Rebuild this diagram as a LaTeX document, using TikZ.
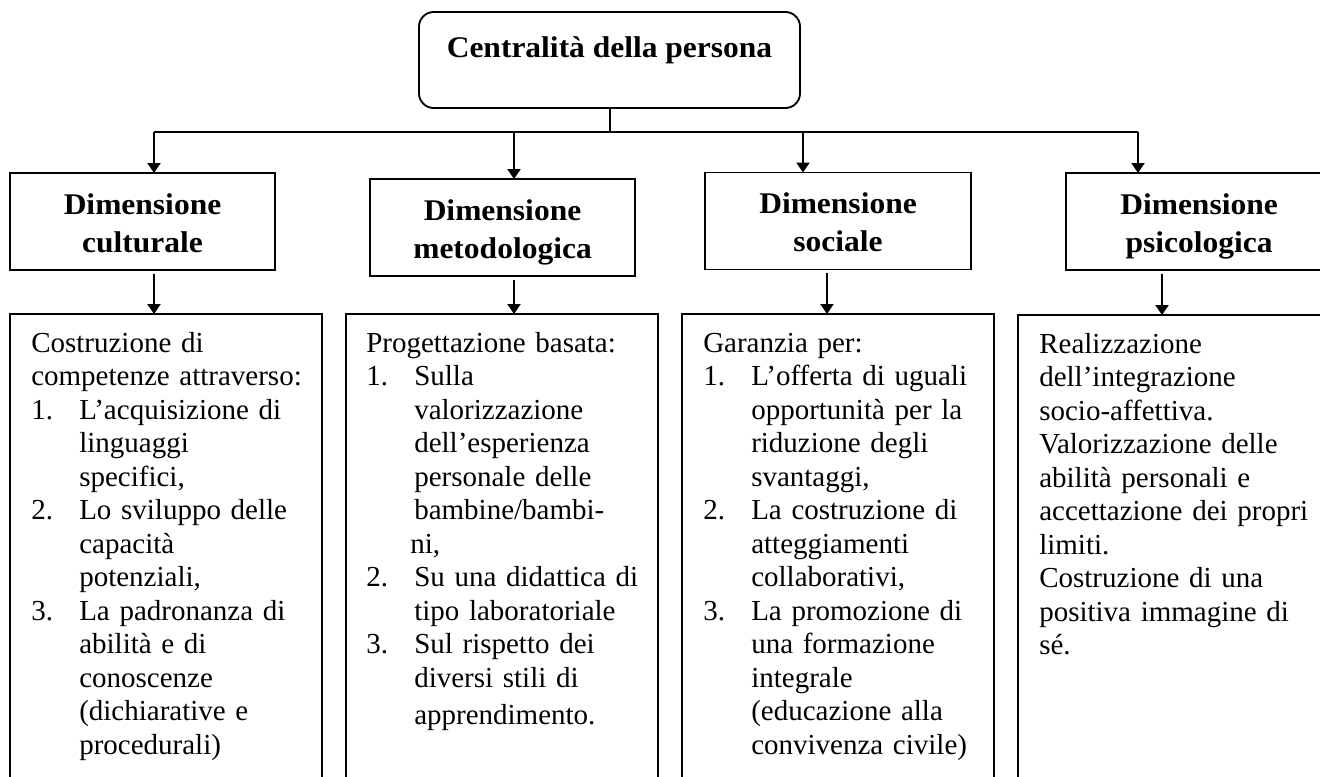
\documentclass[tikz,border=0pt]{standalone}
\usepackage{fontspec}
\setmainfont{Liberation Serif}
\newfontfamily\boldfam{Liberation Serif}[FakeStretch=1.05]
\usetikzlibrary{arrows.meta}
\newcommand\nbr[1]{\makebox[36pt][l]{#1}}
\newcommand\hin{\hspace*{36pt}}
\begin{document}
\begin{tikzpicture}[x=0.75pt,y=-0.75pt,
  line/.style={line width=1.5pt},
  arr/.style={line width=1.5pt,-{Triangle[length=7.5pt,width=9.75pt]}},
  box/.style={draw,line width=1.4pt,rectangle,inner sep=0pt,outer sep=0pt},
  midbox/.style={box,minimum width=199pt,minimum height=72.75pt},
  lowbox/.style={box,minimum width=234pt,minimum height=364.5pt,anchor=north},
  titletxt/.style={font=\boldfam\bfseries\fontsize{22.5pt}{28.5pt}\selectfont,inner sep=0pt,anchor=base},
  headtxt/.style={font=\boldfam\bfseries\fontsize{22.5pt}{28.5pt}\selectfont,align=center,inner sep=0pt,anchor=north},
  bodytxt/.style={font=\fontsize{21.75pt}{25.125pt}\selectfont,align=left,text width=225pt,inner sep=0pt,anchor=north west}]

\useasboundingbox (0,0) rectangle (1320,776);
\clip (0,0) rectangle (1320,776);

% top box
\node[box,rounded corners=11pt,minimum width=285.75pt,minimum height=72pt] (c) at (609.5,60) {};
\node[titletxt] (ct) at ([yshift=-33.75pt]c.north) {Centralità della persona};

% middle boxes
\node[midbox] (m1) at (142.5,221.5) {};
\node[midbox] (m2) at (502.5,227.5) {};
\node[midbox] (m3) at (838,221) {};
\node[midbox] (m4) at (1199,221.5) {};
\node[headtxt] (h1) at ([yshift=-10.875pt]m1.north) {\strut Dimensione\\culturale};
\node[headtxt] (h2) at ([yshift=-10.875pt]m2.north) {\strut Dimensione\\metodologica};
\node[headtxt] (h3) at ([yshift=-10.875pt]m3.north) {\strut Dimensione\\sociale};
\node[headtxt] (h4) at ([yshift=-10.875pt]m4.north) {\strut Dimensione\\psicologica};

% bottom boxes
\node[lowbox] (b1) at (166,314) {};
\node[lowbox] (b2) at (502,314) {};
\node[lowbox] (b3) at (838,314) {};
\node[lowbox] (b4) at (1174,315) {};

\node[bodytxt] (p1) at ([xshift=15.75pt,yshift=-10.9pt]b1.north west)
 {\strut Costruzione di\\
  competenze attraverso:\\
  \nbr{1.}L’acquisizione di\\
  \hin linguaggi\\
  \hin specifici,\\
  \nbr{2.}Lo sviluppo delle\\
  \hin capacità\\
  \hin potenziali,\\
  \nbr{3.}La padronanza di\\
  \hin abilità e di\\
  \hin conoscenze\\
  \hin (dichiarative e\\
  \hin procedurali)};

\node[bodytxt] (p2) at ([xshift=15pt,yshift=-10.9pt]b2.north west)
 {\strut Progettazione basata:\\
  \nbr{1.}Sulla\\
  \hin valorizzazione\\
  \hin dell’esperienza\\
  \hin personale delle\\
  \hin bambine/bambi-\\
  \hspace*{33pt}ni,\\
  \nbr{2.}Su una didattica di\\
  \hin tipo laboratoriale\\
  \nbr{3.}Sul rispetto dei\\
  \hin diversi stili di\\[3pt]
  \hin apprendimento.};

\node[bodytxt] (p3) at ([xshift=15.75pt,yshift=-10.9pt]b3.north west)
 {\strut Garanzia per:\\
  \nbr{1.}L’offerta di uguali\\
  \hin opportunità per la\\
  \hin riduzione degli\\
  \hin svantaggi,\\
  \nbr{2.}La costruzione di\\
  \hin atteggiamenti\\
  \hin collaborativi,\\
  \nbr{3.}La promozione di\\
  \hin una formazione\\
  \hin integrale\\
  \hin (educazione alla\\
  \hin convivenza civile)};

\node[bodytxt] (p4) at ([xshift=15.75pt,yshift=-10.9pt]b4.north west)
 {\strut Realizzazione\\
  dell’integrazione\\
  socio-affettiva.\\
  Valorizzazione delle\\
  abilità personali e\\
  accettazione dei propri\\
  limiti.\\
  Costruzione di una\\
  positiva immagine di\\
  sé.};

% connectors
\coordinate (bus) at (610,132);
\coordinate (j1) at (154,132);
\coordinate (j2) at (514,132);
\coordinate (j3) at (803,132);
\coordinate (j4) at (1138,132);
\draw[line] (c.south -| bus) -- (bus);
\draw[line] (j1) -- (j4);
\draw[arr] (j1) -- (j1 |- m1.north);
\draw[arr] (j2) -- (j2 |- m2.north);
\draw[arr] (j3) -- (j3 |- m3.north);
\draw[arr] (j4) -- (j4 |- m4.north);

\coordinate (k1) at (154,274);
\coordinate (k2) at (514,280);
\coordinate (k3) at (827,273);
\coordinate (k4) at (1162,274);
\draw[arr] (k1) -- (k1 |- b1.north);
\draw[arr] (k2) -- (k2 |- b2.north);
\draw[arr] (k3) -- (k3 |- b3.north);
\draw[arr] (k4) -- (k4 |- b4.north);
\end{tikzpicture}
\end{document}
